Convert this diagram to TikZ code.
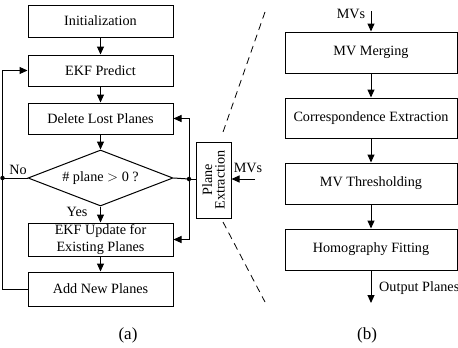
\documentclass[tikz,border=0pt]{standalone}
\usepackage{fontspec}
\setmainfont{Liberation Serif}
\usepackage{graphicx}
\usetikzlibrary{shapes.geometric,arrows.meta}
\begin{document}
\begin{tikzpicture}[x=1pt,y=-1pt,
  txt/.style={font=\fontsize{14.2}{17}\selectfont},
  box/.style={draw, line width=1pt, rectangle, inner sep=0pt, align=center, txt},
  lbox/.style={box, minimum width=145pt},
  rbox/.style={box, minimum width=172pt, minimum height=41pt},
  dec/.style={draw, line width=1pt, diamond, aspect=2.6, inner sep=0pt, minimum width=145pt, minimum height=56pt, txt},
  arr/.style={-{Triangle[length=8pt,width=7pt]}, line width=1pt},
  ln/.style={line width=1pt},
  dotn/.style={circle, fill, inner sep=0pt, minimum size=4.5pt},
  lab/.style={txt, inner sep=0pt},
  captxt/.style={font=\fontsize{17}{20}\selectfont, inner sep=0pt},
  zoomline/.style={line width=0.8pt, dash pattern=on 7pt off 5pt}]
\useasboundingbox (0,0) rectangle (458,348);
% left column
\node[lbox, minimum height=32pt] (init) at (100.5,21) {Initialization};
\node[lbox, minimum height=31pt] (pred) at (100.5,70.5) {EKF Predict};
\node[lbox, minimum height=31pt] (del) at (100.5,118.5) {Delete Lost Planes};
\node[dec] (dia) at (100.5,178) {\# plane $>$ 0 ?};
\node[lbox, minimum height=33pt] (upd) at (100.5,239.5) {EKF Update for\\Existing Planes};
\node[lbox, minimum height=34pt] (add) at (100.5,289) {Add New Planes};
\draw[arr] (init) -- (pred);
\draw[arr] (pred) -- (del);
\draw[arr] (del) -- (dia);
\draw[arr] (dia) -- (upd);
\draw[arr] (upd) -- (add);
% feedback loop
\node[dotn] (ldot) at (2.5,178) {};
\coordinate (lbot) at (2.5,289);
\coordinate (ltop) at (2.5,70.5);
\draw[ln] (add.west) -- (lbot) -- (ldot.center);
\draw[arr] (ldot.center) -- (ltop) -- (pred.west);
\draw[ln] (dia.west) -- (ldot.center);
\node[lab] (no) at (18,170) {No};
\node[lab] (yes) at (77,212) {Yes};
% plane extraction
\node[box, minimum width=35pt, minimum height=76pt] (pe) at (213.5,180)
  {\rotatebox{90}{\shortstack{Plane\\Extraction}}};
\node[dotn] (rdot) at (189,179) {};
\draw[ln] (pe.west |- rdot) -- (rdot.center);
\draw[ln] (dia.east) -- (rdot.center);
\draw[arr] (rdot.center) |- (del.east);
\draw[arr] (rdot.center) |- (upd.east);
\coordinate (mvin) at (255,179);
\draw[arr] (mvin) -- (pe.east |- mvin);
\node[lab] (mvs1) at (248,168) {MVs};
% dashed zoom lines
\coordinate (d1a) at (265,12);
\coordinate (d1b) at (222,135);
\coordinate (d2a) at (223,222);
\coordinate (d2b) at (265,302);
\draw[zoomline] (d1a) -- (d1b);
\draw[zoomline] (d2a) -- (d2b);
% right column
\node[rbox] (mvm) at (371,52.5) {MV Merging};
\node[rbox, minimum height=40pt] (corr) at (371,118) {Correspondence Extraction};
\node[rbox] (thr) at (371,183.5) {MV Thresholding};
\node[rbox] (hom) at (371,249.5) {Homography Fitting};
\coordinate (mvtop) at (371,11);
\coordinate (outp) at (371,303);
\draw[arr] (mvtop) -- (mvm);
\draw[arr] (mvm) -- (corr);
\draw[arr] (corr) -- (thr);
\draw[arr] (thr) -- (hom);
\draw[arr] (hom) -- (outp);
\node[lab] (mvs2) at (351,14) {MVs};
\node[lab, anchor=west] (op) at (379,288) {Output Planes};
% captions
\node[captxt] (ca) at (128,335) {(a)};
\node[captxt] (cb) at (367,335) {(b)};
\end{tikzpicture}
\end{document}
